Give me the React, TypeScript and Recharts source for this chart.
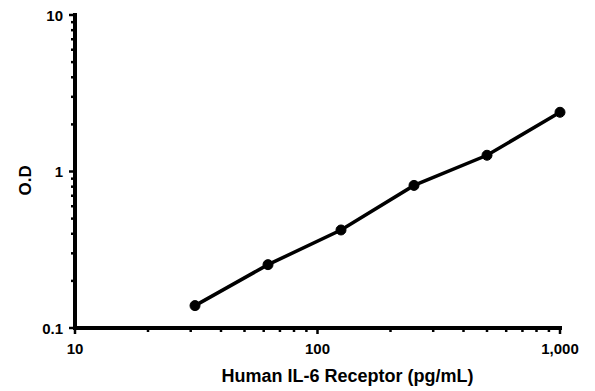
import React from 'react';
import { LineChart, Line, XAxis, YAxis } from 'recharts';

// concentration (pg/mL) vs optical density
const concentrations = [31.25, 62.5, 125, 250, 500, 1000];
const odValues = [0.139, 0.254, 0.423, 0.815, 1.27, 2.39];

const xTicks = [10, 20, 30, 40, 50, 60, 70, 80, 90, 100, 200, 300, 400, 500, 600, 700, 800, 900, 1000];
const xMajor = [10, 100, 1000];
const yTicks = [0.1, 0.2, 0.3, 0.4, 0.5, 0.6, 0.7, 0.8, 0.9, 1, 2, 3, 4, 5, 6, 7, 8, 9, 10];
const yMajor = [0.1, 1, 10];

const data = concentrations.map((c, i) => ({ conc: c, od: odValues[i] }));

// heavy axis frame drawn as two segments along the domain edges
const bottomAxis = [{ conc: 10, od: 0.1 }, { conc: 1000, od: 0.1 }];
const leftAxis = [{ conc: 10, od: 0.1 }, { conc: 10, od: 10 }];

const FONT = '"Liberation Sans", Arial, sans-serif';

const fmt = (v: number) => v.toLocaleString('en-US');

const XTick = (props: any) => {
  const { x, y, payload } = props;
  const major = xMajor.includes(payload.value);
  return (
    <g>
      <line x1={x} x2={x} y1={y} y2={y + (major ? 6 : 4)} stroke="#000" strokeWidth={2.5} />
      {major && (
        <text x={x} y={y + 26} textAnchor="middle" fontFamily={FONT} fontWeight="bold" fontSize={15} fill="#000">
          {fmt(payload.value)}
        </text>
      )}
    </g>
  );
};

const YTick = (props: any) => {
  const { x, y, payload } = props;
  const major = yMajor.includes(payload.value);
  return (
    <g>
      <line x1={x} x2={x - (major ? 6 : 4)} y1={y} y2={y} stroke="#000" strokeWidth={2.5} />
      {major && (
        <text x={x - 12} y={y + 5.5} textAnchor="end" fontFamily={FONT} fontWeight="bold" fontSize={15} fill="#000">
          {fmt(payload.value)}
        </text>
      )}
    </g>
  );
};

export default function App() {
  return (
    <div style={{ position: 'absolute', left: 0, top: 0, background: '#fff' }}>
      <LineChart width={595} height={391} data={data} margin={{ top: 15, right: 35, bottom: 0, left: 0 }}>
        <XAxis
          dataKey="conc"
          type="number"
          scale="log"
          domain={[10, 1000]}
          ticks={xTicks}
          interval={0}
          tick={<XTick />}
          tickLine={false}
          tickSize={0}
          tickMargin={0}
          height={63}
          axisLine={false}
          label={{
            value: 'Human IL-6 Receptor (pg/mL)',
            position: 'insideBottom',
            offset: 9,
            dx: 30,
            fontFamily: FONT,
            fontWeight: 'bold',
            fontSize: 18,
            fill: '#000',
          }}
        />
        <YAxis
          type="number"
          scale="log"
          domain={[0.1, 10]}
          ticks={yTicks}
          interval={0}
          tick={<YTick />}
          tickLine={false}
          tickSize={0}
          tickMargin={0}
          width={75}
          axisLine={false}
          label={{
            value: 'O.D',
            angle: -90,
            position: 'insideLeft',
            offset: 25,
            dy: 24,
            fontFamily: FONT,
            fontWeight: 'bold',
            fontSize: 17,
            fill: '#000',
          }}
        />
        <Line
          data={bottomAxis}
          type="linear"
          dataKey="od"
          stroke="#000"
          strokeWidth={4}
          strokeLinecap="square"
          dot={false}
          activeDot={false}
          isAnimationActive={false}
        />
        <Line
          data={leftAxis}
          type="linear"
          dataKey="od"
          stroke="#000"
          strokeWidth={4}
          strokeLinecap="square"
          dot={false}
          activeDot={false}
          isAnimationActive={false}
        />
        <Line
          type="linear"
          dataKey="od"
          stroke="#000"
          strokeWidth={3.5}
          dot={{ r: 5, fill: '#000', stroke: '#000', strokeWidth: 1 }}
          isAnimationActive={false}
        />
      </LineChart>
    </div>
  );
}
